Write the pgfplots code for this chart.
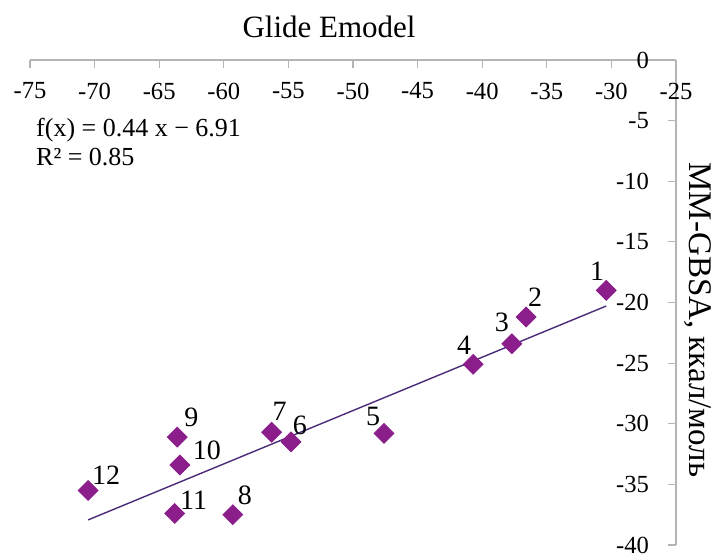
\documentclass[border=0pt]{standalone}
\usepackage{pgfplots}
\pgfplotsset{compat=1.18}
\usepackage{pgfplotstable}
\usepackage{fontspec}
\setmainfont{Liberation Serif}

\definecolor{ptcol}{HTML}{8B1E8B}
\definecolor{fitcol}{HTML}{4B2A7A}
\definecolor{axcol}{HTML}{B4B4B4}

% Glide Emodel vs MM-GBSA; dx, dy: label offsets (pt)
\pgfplotstableread{
x      y      lbl  dx     dy
-30.4  -19.0  1    -4.5   9.5
-36.6  -21.2  2     4.5  10.0
-37.7  -23.4  3    -5.0  10.5
-40.7  -25.1  4    -4.5   9.5
-47.6  -30.8  5    -5.5   8.5
-54.8  -31.5  6     4.5   8.5
-56.3  -30.7  7     4.0  10.5
-59.3  -37.5  8     6.0   9.5
-63.6  -31.1  9     7.0  10.0
-63.4  -33.4  10   13.5   7.5
-63.8  -37.4  11    9.5   6.5
-70.5  -35.5  12    9.0   7.5
}\datatable

\begin{document}
\begin{tikzpicture}
\begin{axis}[
  name=ax,
  scale only axis,
  width=323pt, height=242.5pt,
  xmin=-75, xmax=-25, ymin=-40, ymax=0,
  axis x line=top, axis y line=right,
  x axis line style={-, axcol, line width=0.6pt},
  y axis line style={-, axcol, line width=0.6pt},
  tick style={axcol, line width=0.6pt},
  tick align=inside,
  major tick length=4pt,
  xtick={-75,-70,...,-25},
  ytick={-40,-35,...,0},
  /pgf/number format/assume math mode=true,
  tick label style={font=\fontsize{12.3}{12.3}\selectfont, text=black},
  xticklabel style={anchor=center, yshift=-15.5pt},
  yticklabel style={anchor=east, xshift=-10pt},
  clip=false,
]
% regression line f(x) = 0.44x - 6.91
\addplot[fitcol, line width=0.7pt] coordinates {(-70.5,-37.93) (-30.4,-20.29)};
% compounds
\addplot[only marks, mark=square*, mark size=3.5pt,
  mark options={rotate=45, fill=ptcol, draw=ptcol},
  point meta=explicit symbolic,
  visualization depends on={\thisrow{dx} \as \dx},
  visualization depends on={\thisrow{dy} \as \dy},
  nodes near coords,
  every node near coord/.append style={anchor=center, xshift=\dx pt, yshift=\dy pt,
    font=\fontsize{14}{14}\selectfont, text=black, inner sep=0pt},
] table[x=x, y=y, meta=lbl] {\datatable};

\node[anchor=center, font=\fontsize{15.5}{15.5}\selectfont] at ([yshift=16.7pt]rel axis cs:0.463,1) {Glide Emodel};
\node[anchor=west, font=\fontsize{13}{13}\selectfont, inner sep=0pt] at (rel axis cs:0.009,0.856) {f(x) = 0.44 x − 6.91};
\node[anchor=west, font=\fontsize{13}{13}\selectfont, inner sep=0pt] at (rel axis cs:0.009,0.80) {R² = 0.85};
\node[rotate=-90, anchor=center, font=\fontsize{16.5}{16.5}\selectfont] at (rel axis cs:1.034,0.464) {MM-GBSA, ккал/моль};
\end{axis}
\pgfresetboundingbox
\path[use as bounding box] ([shift={(-15pt,-5.5pt)}]ax.south west) rectangle ([shift={(344pt,272.5pt)}]ax.south west);
\end{tikzpicture}
\end{document}
